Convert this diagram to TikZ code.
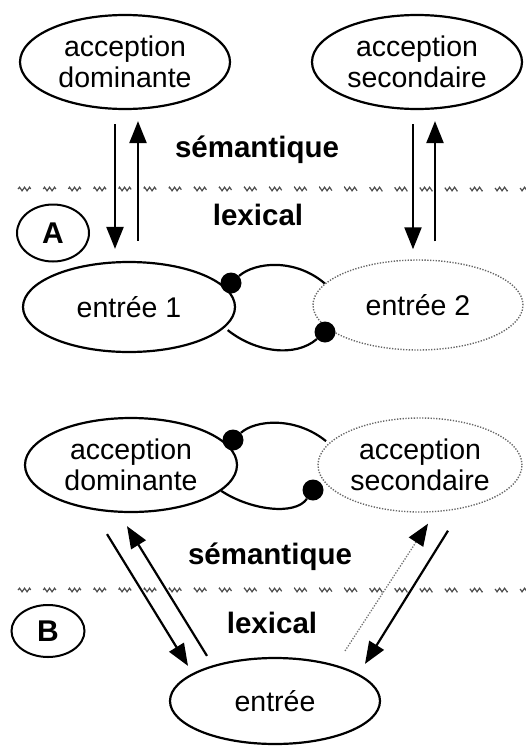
\documentclass[tikz,border=0pt]{standalone}
\usepackage{fontspec}
\setmainfont{Liberation Sans}
\usetikzlibrary{shapes.geometric,arrows.meta,decorations.pathmorphing}
\tikzset{
  sens/.style={ellipse,draw,line width=2.2pt,inner sep=0pt,align=center,
    font=\fontsize{28.5}{31}\selectfont},
  faible/.style={sens,draw=black!60,line width=1.4pt,dash pattern=on 1.3pt off 1.5pt},
  niveau/.style={font=\bfseries\fontsize{29.5}{30}\selectfont},
  lettre/.style={ellipse,draw,line width=2pt,inner sep=0pt,
    font=\bfseries\fontsize{30}{30}\selectfont},
  point/.style={circle,fill,inner sep=0pt,minimum size=21pt},
  lien/.style={line width=2.2pt},
  fl/.style={-{Triangle[length=22pt,width=17pt]},line width=2.2pt},
  flfaible/.style={-{Triangle[length=22pt,width=17pt,black]},draw=black!55,
    line width=1.3pt,dash pattern=on 1.3pt off 1.5pt},
  frontiere/.style={draw=black!70,line width=1.2pt,dash pattern=on 22pt off 22pt,
    decorate,decoration={snake,amplitude=1.8pt,segment length=5pt}}
}
\begin{document}
\begin{tikzpicture}[x=1pt,y=-1pt]
\useasboundingbox (0,0) rectangle (526,747);
% partie A
\node[sens,minimum width=210pt,minimum height=94pt] (domA) at (125,62) {acception\\dominante};
\node[sens,minimum width=210pt,minimum height=94pt] (secA) at (417,62) {acception\\secondaire};
\node[niveau] (semA) at (257,150) {sémantique};
\node[niveau] (lexA) at (258,215) {lexical};
\node[lettre,minimum width=72pt,minimum height=57pt] (lettreA) at (53,233) {A};
\node[sens,minimum width=212pt,minimum height=90pt] (ent1) at (129,307) {entrée 1};
\node[faible,minimum width=210pt,minimum height=90pt] (ent2) at (418,305) {entrée 2};
\node[point] (pA1) at (231,283) {};
\node[point] (pA2) at (325,332) {};
\draw[frontiere] (18,189) -- (530,189);
\draw[fl] ([shift={(-10,14)}]domA.south) -- ([shift={(-14,-12)}]ent1.north);
\draw[fl] ([shift={(9,-20)}]ent1.north) -- ([shift={(13,11)}]domA.south);
\draw[fl] ([shift={(-4,14)}]secA.south) -- ([shift={(-5,-10)}]ent2.north);
\draw[fl] ([shift={(17,-18)}]ent2.north) -- ([shift={(18,11)}]secA.south);
\draw[lien] (pA1) .. controls (255,262) and (295,258) .. (ent2.167);
\draw[lien] ([xshift=6pt]ent1.-14) .. controls (255,352) and (295,358) .. (pA2);
% partie B
\node[sens,minimum width=212pt,minimum height=94pt] (domB) at (131,465) {acception\\dominante};
\node[faible,minimum width=204pt,minimum height=94pt] (secB) at (420,465) {acception\\secondaire};
\node[niveau] (semB) at (270,557) {sémantique};
\node[niveau] (lexB) at (272,623) {lexical};
\node[lettre,minimum width=73pt,minimum height=52pt] (lettreB) at (48,631) {B};
\node[sens,minimum width=210pt,minimum height=86pt] (ent) at (275,701) {entrée};
\node[point] (pB1) at (233,440) {};
\node[point] (pB2) at (313,490) {};
\draw[frontiere] (18,590) -- (530,590);
\draw[fl] ([shift={(-24,21)}]domB.south) -- ([shift={(-87,9)}]ent.north);
\draw[fl] ([shift={(-68,-1)}]ent.north) -- ([shift={(-4,13)}]domB.south);
\draw[flfaible] ([shift={(70,-6)}]ent.north) -- ([shift={(8,11)}]secB.south);
\draw[fl] ([shift={(28,18)}]secB.south) -- ([shift={(90,7)}]ent.north);
\draw[lien] (pB1) .. controls (255,420) and (295,416) .. ([xshift=-5pt]secB.165);
\draw[lien] (domB.-16) .. controls (250,510) and (295,516) .. (pB2);
\end{tikzpicture}
\end{document}
